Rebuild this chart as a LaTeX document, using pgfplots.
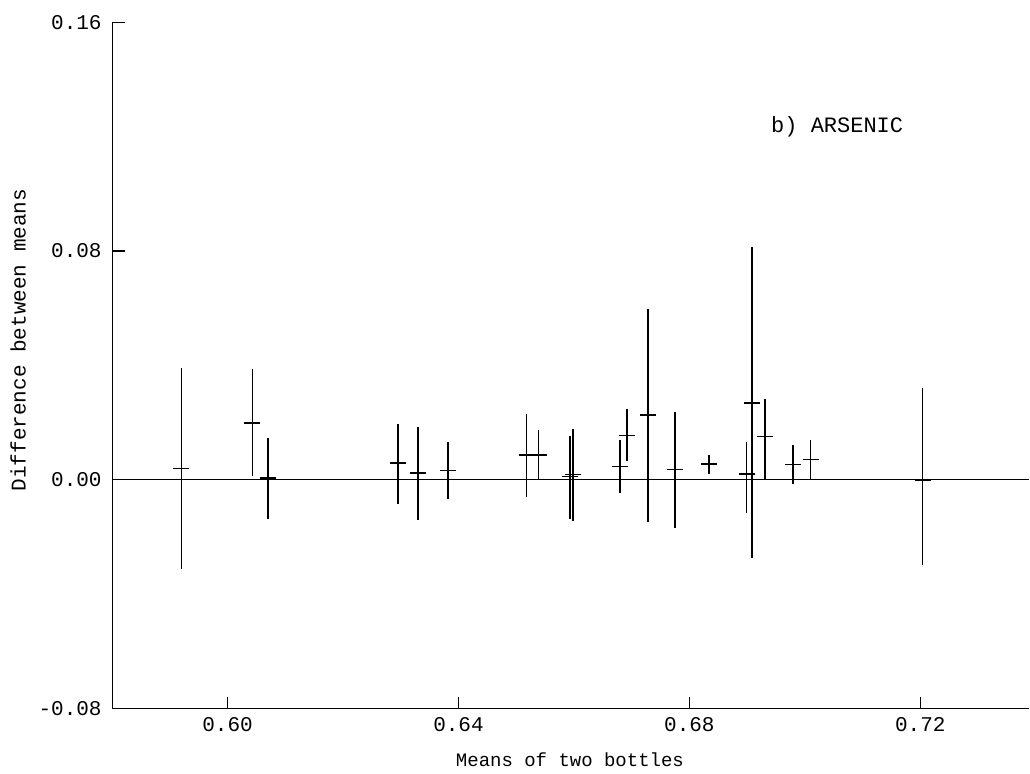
\documentclass[border=0pt]{standalone}
\usepackage{fontspec}
\usepackage{pgfplots}
\pgfplotsset{compat=1.18}
\usepackage{pgfplotstable}
\newfontfamily\mono{Liberation Mono}

% x, mean difference, error bar above, error bar below
\pgfplotstableread{
x      y       ep      em
0.5920 0.0040  0.0351  0.0353
0.6043 0.0198  0.0188  0.0186
0.6070 0.0006  0.0139  0.0142
0.6295 0.0058  0.0138  0.0141
0.6330 0.0023  0.0163  0.0162
0.6382 0.0033  0.0099  0.0101
0.6518 0.0086  0.0145  0.0146
0.6539 0.0086  0.0089  0.0086
0.6593 0.0012  0.0141  0.0150
0.6598 0.0018  0.0159  0.0161
0.6680 0.0047  0.0093  0.0092
0.6692 0.0155  0.0094  0.0090
0.6728 0.0226  0.0371  0.0372
0.6775 0.0036  0.0200  0.0203
0.6834 0.0056  0.0031  0.0034
0.6899 0.0020  0.0114  0.0136
0.6908 0.0268  0.0545  0.0543
0.6931 0.0152  0.0132  0.0152
0.6979 0.0054  0.0067  0.0067
0.7010 0.0071  0.0070  0.0071
0.7204 0.0000  0.0322  0.0299
}\arsenic

\begin{document}
\begin{tikzpicture}
% page = 1030 x 773 px at 0.5pt per px
\path (-56.35pt,-32pt) rectangle (458.65pt,354.5pt);
\begin{axis}[
  at={(0,0)}, anchor=south west,
  scale only axis,
  width=458.65pt, height=343.35pt,
  xmin=0.5801, xmax=0.7389,
  ymin=-0.08, ymax=0.16,
  axis x line=bottom, axis y line=left,
  axis line style={-, line width=0.6pt, black},
  xtick={0.60,0.64,0.68,0.72},
  xticklabels={0.60,0.64,0.68,0.72},
  ytick={-0.08,0,0.08,0.16},
  yticklabels={-0.08,0.00,0.08,0.16},
  tick align=inside,
  major tick length=6pt,
  tick style={line width=0.6pt, black},
  tick label style={font=\mono\fontsize{10.5}{12}\selectfont},
  xticklabel style={yshift=-1pt},
  yticklabel style={xshift=-2pt},
  xlabel={Means of two bottles},
  ylabel={Difference between means},
  xlabel style={font=\mono\fontsize{9.5}{11}\selectfont,
    at={(axis description cs:0.4988,0)}, anchor=center, yshift=-25.5pt},
  ylabel style={font=\mono\fontsize{10.5}{12}\selectfont,
    at={(axis description cs:-0.1032,0.537)}, anchor=center, rotate=0},
  clip=false,
]
\addplot[black, line width=0.6pt] coordinates {(0.5801,0) (0.7389,0)};
\addplot[black, only marks, mark=-, mark size=4pt,
  mark options={line width=0.8pt},
  error bars/.cd, y dir=both, y explicit,
  error mark=none,
  error bar style={line width=0.8pt, black}]
  table[x=x, y=y, y error plus=ep, y error minus=em] {\arsenic};
\node[font=\mono\fontsize{11}{13}\selectfont, anchor=center]
  at (axis cs:0.7056,0.1234) {b) ARSENIC};
\end{axis}
\end{tikzpicture}
\end{document}
